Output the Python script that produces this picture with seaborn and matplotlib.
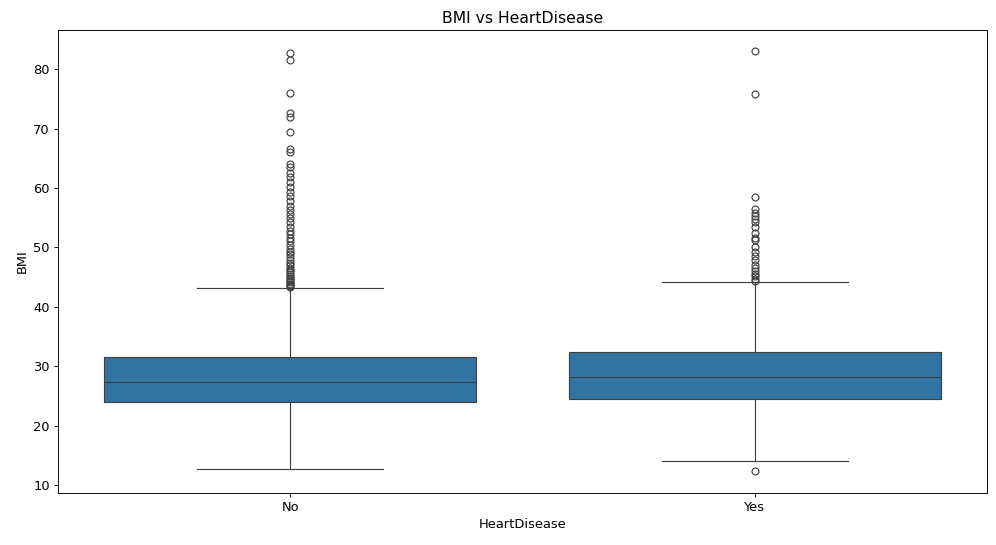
import numpy as np
import pandas as pd
import matplotlib
matplotlib.use("Agg")
import matplotlib.pyplot as plt
import seaborn as sns

categories = ["No", "Yes"]
# box stats: lower whisker, q1, median, q3, upper whisker
stats_no = [12.7, 23.9, 27.4, 31.6, 43.1]
stats_yes = [14.0, 24.5, 28.1, 32.4, 44.2]
outliers_no = [43.3, 43.5, 43.7, 43.9, 44.1, 44.3, 44.6, 44.9, 45.2, 45.5, 45.8, 46.2,
               46.6, 47.0, 47.4, 47.8, 48.3, 48.8, 49.3, 49.8, 50.4, 51.0, 51.6, 52.2,
               52.8, 53.5, 54.2, 54.9, 55.6, 56.3, 57.0, 57.8, 58.6, 59.4, 60.2, 61.0,
               61.8, 62.6, 63.5, 64.0, 66.0, 66.5, 69.5, 72.0, 72.6, 76.0, 81.5, 82.8]
outliers_yes = [12.4, 44.4, 44.7, 45.2, 45.6, 46.0, 46.5, 47.0, 47.8, 48.5, 49.2, 50.0,
                51.2, 51.6, 52.5, 53.5, 54.2, 54.8, 55.3, 55.8, 56.5, 58.5, 75.8, 83.0]


def build_sample(stats, outliers, k=60):
    # sorted sample of 4k+1 points whose quartiles land exactly on the given stats
    lo, q1, med, q3, hi = stats
    low_out = [v for v in outliers if v < lo]
    high_out = [v for v in outliers if v > hi]
    vals = low_out + [lo] + [q1] * (k - len(low_out)) + [med] * k + [q3] * k
    tail = [hi] + high_out
    vals += [q3] * (k - len(tail)) + tail
    return vals


no_vals = build_sample(stats_no, outliers_no)
yes_vals = build_sample(stats_yes, outliers_yes)
df = pd.DataFrame({
    "HeartDisease": [categories[0]] * len(no_vals) + [categories[1]] * len(yes_vals),
    "BMI": no_vals + yes_vals,
})

plt.rcParams["font.size"] = 11.3
fig, ax = plt.subplots(figsize=(12, 6.56), dpi=83.08)
sns.boxplot(data=df, x="HeartDisease", y="BMI", order=categories, color="#1f77b4",
            saturation=0.75, fliersize=6, ax=ax)
ax.set_title("BMI vs HeartDisease")
ax.set_yticks([10, 20, 30, 40, 50, 60, 70, 80])
ax.set_ylim(8.7, 86.6)
fig.subplots_adjust(left=0.058, right=0.99, top=0.945, bottom=0.096)
fig.savefig("out.png", dpi=83.08)
